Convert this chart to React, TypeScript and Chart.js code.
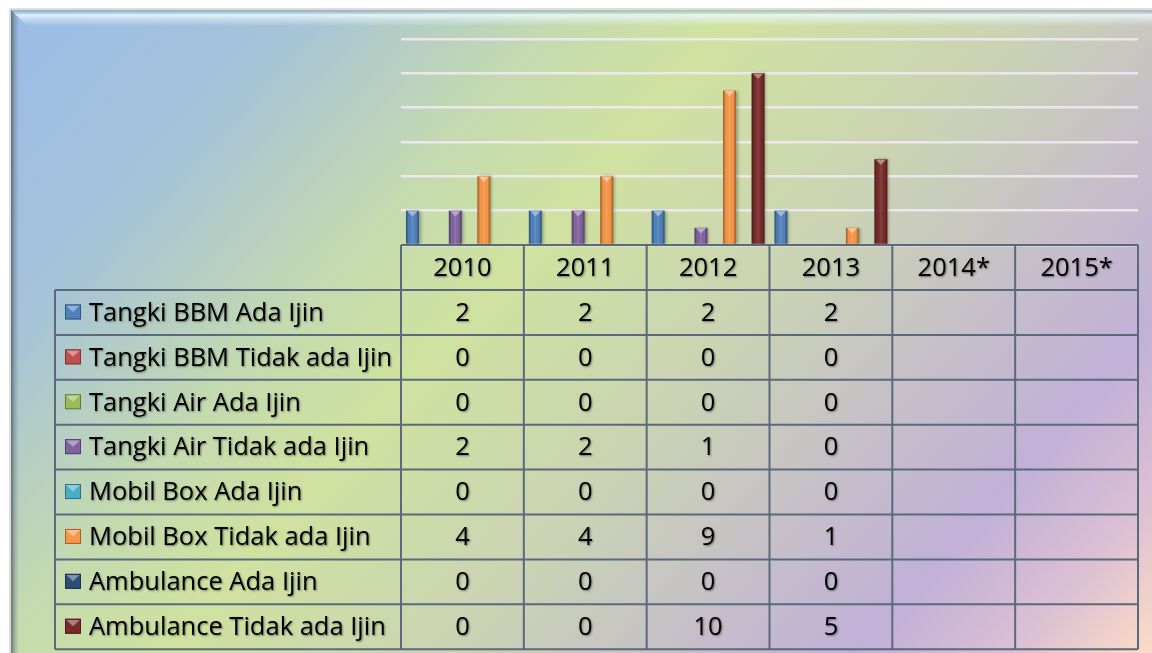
import React, { useEffect, useRef } from 'react';
import { Chart, registerables } from 'chart.js';

Chart.register(...registerables);

const categories = ['2010', '2011', '2012', '2013', '2014*', '2015*'];

const seriesLabels = [
  'Tangki BBM Ada Ijin',
  'Tangki BBM Tidak ada Ijin',
  'Tangki Air Ada Ijin',
  'Tangki Air Tidak ada Ijin',
  'Mobil Box Ada Ijin',
  'Mobil Box Tidak ada Ijin',
  'Ambulance Ada Ijin',
  'Ambulance Tidak ada Ijin',
];

const tangkiBbmAdaIjin = [2, 2, 2, 2, null, null];
const tangkiBbmTidakAdaIjin = [0, 0, 0, 0, null, null];
const tangkiAirAdaIjin = [0, 0, 0, 0, null, null];
const tangkiAirTidakAdaIjin = [2, 2, 1, 0, null, null];
const mobilBoxAdaIjin = [0, 0, 0, 0, null, null];
const mobilBoxTidakAdaIjin = [4, 4, 9, 1, null, null];
const ambulanceAdaIjin = [0, 0, 0, 0, null, null];
const ambulanceTidakAdaIjin = [0, 0, 10, 5, null, null];

const seriesValues = [
  tangkiBbmAdaIjin,
  tangkiBbmTidakAdaIjin,
  tangkiAirAdaIjin,
  tangkiAirTidakAdaIjin,
  mobilBoxAdaIjin,
  mobilBoxTidakAdaIjin,
  ambulanceAdaIjin,
  ambulanceTidakAdaIjin,
];

const seriesColors = ['#4f81bd', '#c0504d', '#9bbb59', '#8064a2', '#4bacc6', '#f79646', '#2c4d75', '#772c2a'];

const yMin = 0;
const yMax = 12;
const yStep = 2;

const FONT = '"Open Sans", "Noto Sans", sans-serif';

function hexToRgb(hex: string) {
  const h = hex.replace('#', '');
  return [parseInt(h.slice(0, 2), 16), parseInt(h.slice(2, 4), 16), parseInt(h.slice(4, 6), 16)];
}
function mix(hex: string, target: number, f: number) {
  const [r, g, b] = hexToRgb(hex);
  const m = (c: number) => Math.round(c + (target - c) * f);
  return `rgb(${m(r)},${m(g)},${m(b)})`;
}

const backgroundPlugin = {
  id: 'bgFrame',
  beforeDraw(chart: any) {
    const { ctx, width, height } = chart;
    ctx.save();
    ctx.fillStyle = '#ffffff';
    ctx.fillRect(0, 0, width, height);
    const fx = 11, fy = 10;
    const g = ctx.createLinearGradient(0, 0, 961, 865);
    g.addColorStop(0, '#9bbbe8');
    g.addColorStop(0.18, '#a6c3d8');
    g.addColorStop(0.33, '#c4dab0');
    g.addColorStop(0.43, '#d0e2a0');
    g.addColorStop(0.6, '#cad3b4');
    g.addColorStop(0.72, '#c6c0c8');
    g.addColorStop(0.83, '#c1b0d8');
    g.addColorStop(0.92, '#dcc0d4');
    g.addColorStop(1, '#fcdcc4');
    ctx.fillStyle = g;
    ctx.fillRect(fx, fy, width - fx + 5, height - fy + 5);
    // outer border
    ctx.strokeStyle = '#d4d4d4';
    ctx.lineWidth = 1.5;
    ctx.strokeRect(fx - 1, fy - 1, width, height);
    // top bevel highlight
    const tg = ctx.createLinearGradient(0, fy, 0, fy + 16);
    tg.addColorStop(0, 'rgba(120,150,170,0.35)');
    tg.addColorStop(0.3, 'rgba(235,250,255,0.85)');
    tg.addColorStop(0.55, 'rgba(235,250,255,0.5)');
    tg.addColorStop(1, 'rgba(235,250,255,0)');
    ctx.fillStyle = tg;
    ctx.beginPath();
    ctx.moveTo(fx, fy);
    ctx.lineTo(width, fy);
    ctx.lineTo(width, fy + 16);
    ctx.lineTo(fx + 16, fy + 16);
    ctx.closePath();
    ctx.fill();
    // left bevel shadow
    const lg = ctx.createLinearGradient(fx, 0, fx + 8, 0);
    lg.addColorStop(0, 'rgba(70,80,95,0.75)');
    lg.addColorStop(0.5, 'rgba(90,100,110,0.3)');
    lg.addColorStop(1, 'rgba(90,100,110,0)');
    ctx.fillStyle = lg;
    ctx.beginPath();
    ctx.moveTo(fx, fy);
    ctx.lineTo(fx + 8, fy + 8);
    ctx.lineTo(fx + 8, height);
    ctx.lineTo(fx, height);
    ctx.closePath();
    ctx.fill();
    ctx.restore();
  },
};

const barStylePlugin = {
  id: 'barStyle',
  beforeDatasetsDraw(chart: any) {
    const { ctx } = chart;
    ctx.save();
    ctx.shadowColor = 'rgba(0,0,0,0.3)';
    ctx.shadowBlur = 3;
    ctx.shadowOffsetX = 2;
    ctx.shadowOffsetY = 0;
  },
  afterDatasetsDraw(chart: any) {
    const { ctx } = chart;
    ctx.restore();
    ctx.save();
    chart.data.datasets.forEach((ds: any, i: number) => {
      const meta = chart.getDatasetMeta(i);
      const color = seriesColors[i];
      meta.data.forEach((bar: any, j: number) => {
        const v = ds.data[j];
        if (!v) return;
        const { x, y, base, width } = bar.getProps(['x', 'y', 'base', 'width'], true);
        const l = x - width / 2;
        const r = x + width / 2;
        const g = ctx.createLinearGradient(l, 0, r, 0);
        g.addColorStop(0, 'rgba(0,0,0,0.4)');
        g.addColorStop(0.22, 'rgba(0,0,0,0)');
        g.addColorStop(0.5, 'rgba(255,255,255,0.12)');
        g.addColorStop(0.78, 'rgba(0,0,0,0)');
        g.addColorStop(1, 'rgba(0,0,0,0.4)');
        ctx.fillStyle = g;
        ctx.fillRect(l, y, width, base - y);
        ctx.fillStyle = mix(color, 255, 0.45);
        ctx.beginPath();
        ctx.moveTo(l + 1.5, y + 0.5);
        ctx.lineTo(r - 1.5, y + 0.5);
        ctx.lineTo(x, y + width * 0.45);
        ctx.closePath();
        ctx.fill();
      });
    });
    ctx.restore();
  },
};

function drawKey(ctx: CanvasRenderingContext2D, x: number, y: number, w: number, h: number, color: string) {
  ctx.save();
  ctx.fillStyle = color;
  ctx.fillRect(x, y, w, h);
  ctx.fillStyle = mix(color, 255, 0.4);
  ctx.beginPath();
  ctx.moveTo(x + 1, y + 1);
  ctx.lineTo(x + w - 1, y + 1);
  ctx.lineTo(x + w / 2, y + h * 0.5);
  ctx.closePath();
  ctx.fill();
  ctx.strokeStyle = mix(color, 0, 0.35);
  ctx.lineWidth = 1;
  ctx.strokeRect(x + 0.5, y + 0.5, w - 1, h - 1);
  ctx.restore();
}

const tablePlugin = {
  id: 'dataTable',
  afterDraw(chart: any) {
    const { ctx, chartArea } = chart;
    const left = chartArea.left;
    const right = chartArea.right;
    const colW = (right - left) / categories.length;
    const headTop = chartArea.bottom;
    const headBot = headTop + 45;
    const rowH = 44.9;
    const labelLeft = 55;
    const tableBottom = headBot + rowH * seriesLabels.length;

    ctx.save();
    ctx.strokeStyle = '#5a697b';
    ctx.lineWidth = 2;
    ctx.beginPath();
    ctx.moveTo(left, headTop);
    ctx.lineTo(right, headTop);
    for (let r = 0; r <= seriesLabels.length; r++) {
      const yy = headBot + r * rowH;
      ctx.moveTo(labelLeft, yy);
      ctx.lineTo(right, yy);
    }
    for (let c = 0; c <= categories.length; c++) {
      const xx = left + c * colW;
      ctx.moveTo(xx, headTop);
      ctx.lineTo(xx, tableBottom);
    }
    ctx.moveTo(labelLeft, headBot);
    ctx.lineTo(labelLeft, tableBottom);
    ctx.stroke();

    ctx.font = `25.5px ${FONT}`;
    ctx.fillStyle = '#000000';
    ctx.textBaseline = 'middle';
    ctx.shadowColor = 'rgba(0,0,0,0.45)';
    ctx.shadowBlur = 2;
    ctx.shadowOffsetX = 1;
    ctx.shadowOffsetY = 1;

    ctx.textAlign = 'center';
    categories.forEach((c, i) => {
      ctx.fillText(c, left + (i + 0.5) * colW, (headTop + headBot) / 2 + 1);
    });

    seriesLabels.forEach((lab, r) => {
      const cy = headBot + (r + 0.5) * rowH + 1;
      ctx.textAlign = 'left';
      ctx.fillText(lab, 89, cy);
      ctx.textAlign = 'center';
      seriesValues[r].forEach((v, i) => {
        if (v === null || v === undefined) return;
        ctx.fillText(String(v), left + (i + 0.5) * colW, cy);
      });
    });
    ctx.shadowColor = 'rgba(0,0,0,0)';
    seriesLabels.forEach((lab, r) => {
      const cy = headBot + (r + 0.5) * rowH;
      drawKey(ctx, 65, cy - 8, 16, 15, seriesColors[r]);
    });
    ctx.restore();
  },
};

export default function App() {
  const canvasRef = useRef<HTMLCanvasElement | null>(null);

  useEffect(() => {
    if (!canvasRef.current) return;
    const chart = new Chart(canvasRef.current, {
      type: 'bar',
      data: {
        labels: categories,
        datasets: seriesLabels.map((label, i) => ({
          label,
          data: seriesValues[i],
          backgroundColor: seriesColors[i],
          borderWidth: 0,
          categoryPercentage: 0.93,
          barPercentage: 0.9,
        })),
      },
      options: {
        animation: false,
        responsive: false,
        devicePixelRatio: 1,
        layout: { padding: { left: 401, right: 14, top: 39, bottom: 408 } },
        plugins: {
          legend: { display: false },
          tooltip: { enabled: false },
          title: { display: false },
        },
        scales: {
          x: { display: false },
          y: {
            min: yMin,
            max: yMax,
            ticks: { stepSize: yStep, display: false },
            grid: { color: 'rgba(238,232,238,0.95)', lineWidth: 2.5, drawTicks: false },
            border: { display: false },
          },
        },
      },
      plugins: [backgroundPlugin, barStylePlugin, tablePlugin],
    });
    return () => chart.destroy();
  }, []);

  return (
    <div style={{ position: 'fixed', left: 0, top: 0, width: 1152, height: 653 }}>
      <canvas ref={canvasRef} width={1152} height={653} />
    </div>
  );
}
